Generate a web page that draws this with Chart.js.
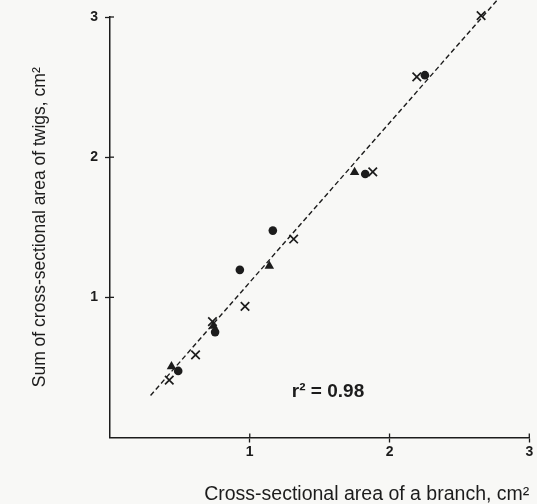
<!DOCTYPE html>
<html lang="en">
<head>
    <meta charset="UTF-8">
    <title>Twig vs branch area</title>
    <script src="https://cdn.jsdelivr.net/npm/chart.js@4/dist/chart.umd.min.js"></script>
    <style>
        html, body { margin: 0; padding: 0; background: #f8f8f6; }
        #wrap { width: 537px; height: 504px; }
    </style>
</head>
<body>
    <div id="wrap"><canvas id="chartArea"></canvas></div>
    <script>
        // crosses, circles and triangles (x = branch, y = twigs, cm2)
        var cross_x = [0.424, 0.612, 0.733, 0.966, 1.314, 1.88, 2.195, 2.655];
        var cross_y = [0.41, 0.589, 0.827, 0.936, 1.416, 1.895, 2.573, 3.01];
        var circle_x = [0.488, 0.752, 0.929, 1.165, 1.826, 2.253];
        var circle_y = [0.475, 0.752, 1.196, 1.476, 1.88, 2.585];
        var tri_x = [0.44, 0.74, 1.14, 1.75];
        var tri_y = [0.506, 0.796, 1.224, 1.892];
        // fitted line ends
        var fit_x = [0.29, 2.80];
        var fit_y = [0.30, 3.155];
        var tick_vals = [1, 2, 3];
        var r2_label = 'r\u00b2 = 0.98';

        function pts(xs, ys) {
            return xs.map((v, i) => ({x: v, y: ys[i]}));
        }

        var ink = '#1c1c1c';

        // ticks cross the axis in the original, draw the inner half
        const innerTicks = {
            id: 'innerTicks',
            afterDraw(chart) {
                const ctx = chart.ctx;
                const xs = chart.scales.x, ys = chart.scales.y;
                ctx.save();
                ctx.strokeStyle = ink;
                ctx.lineWidth = 1.3;
                tick_vals.forEach(v => {
                    const px = xs.getPixelForValue(v);
                    ctx.beginPath();
                    ctx.moveTo(px, ys.bottom);
                    ctx.lineTo(px, ys.bottom - 4);
                    ctx.stroke();
                    const py = ys.getPixelForValue(v);
                    ctx.beginPath();
                    ctx.moveTo(xs.left, py);
                    ctx.lineTo(xs.left + 4, py);
                    ctx.stroke();
                });
                // r2 note
                ctx.fillStyle = ink;
                ctx.font = 'bold 19px "Liberation Sans", Arial, sans-serif';
                ctx.textAlign = 'center';
                ctx.textBaseline = 'middle';
                ctx.fillText(r2_label, xs.getPixelForValue(1.56), ys.getPixelForValue(0.325));
                ctx.restore();
            }
        };

        const data = {
            datasets: [
                {
                    label: 'fit',
                    type: 'line',
                    data: pts(fit_x, fit_y),
                    borderColor: ink,
                    borderWidth: 1.4,
                    borderDash: [5, 3],
                    pointRadius: 0,
                    clip: false
                },
                {
                    label: 'x',
                    data: pts(cross_x, cross_y),
                    pointStyle: 'crossRot',
                    pointRadius: 6,
                    borderColor: ink,
                    borderWidth: 1.7,
                    clip: false
                },
                {
                    label: 'circle',
                    data: pts(circle_x, circle_y),
                    pointStyle: 'circle',
                    pointRadius: 4.3,
                    backgroundColor: ink,
                    borderColor: ink,
                    borderWidth: 0,
                    clip: false
                },
                {
                    label: 'triangle',
                    data: pts(tri_x, tri_y),
                    pointStyle: 'triangle',
                    pointRadius: 5.5,
                    backgroundColor: ink,
                    borderColor: ink,
                    borderWidth: 0,
                    clip: false
                }
            ]
        };

        const tickFont = {family: '"Liberation Sans", Arial, sans-serif', size: 14, weight: 'bold'};
        const xTitleFont = {family: '"Liberation Sans", Arial, sans-serif', size: 19.5, lineHeight: 1};
        const yTitleFont = {family: '"Liberation Sans", Arial, sans-serif', size: 17.5, lineHeight: 1};

        const config = {
            type: 'scatter',
            data,
            options: {
                animation: false,
                responsive: true,
                maintainAspectRatio: false,
                layout: {padding: {left: 31, right: 7, top: 17, bottom: 0}},
                plugins: {legend: {display: false}, tooltip: {enabled: false}},
                scales: {
                    x: {
                        type: 'linear',
                        min: 0,
                        max: 3,
                        afterBuildTicks: s => { s.ticks = tick_vals.map(v => ({value: v})); },
                        afterFit: s => { s.height = 66.5; },
                        grid: {drawOnChartArea: false, tickLength: 5, color: ink, tickWidth: 1.3},
                        border: {color: ink, width: 1.5},
                        ticks: {color: ink, font: tickFont, padding: 1, maxRotation: 0},
                        title: {
                            display: true,
                            text: 'Cross-sectional area of a branch, cm\u00b2',
                            color: ink,
                            font: xTitleFont,
                            align: 'end',
                            padding: {top: 0, bottom: 0}
                        }
                    },
                    y: {
                        type: 'linear',
                        min: 0,
                        max: 3,
                        afterBuildTicks: s => { s.ticks = tick_vals.map(v => ({value: v})); },
                        afterFit: s => { s.width = 79; },
                        grid: {drawOnChartArea: false, tickLength: 5, color: ink, tickWidth: 1.3},
                        border: {color: ink, width: 1.5},
                        ticks: {color: ink, font: tickFont, padding: 7},
                        title: {
                            display: true,
                            text: 'Sum of cross-sectional area of twigs, cm\u00b2',
                            color: ink,
                            font: yTitleFont,
                            padding: {top: 0, bottom: 0}
                        }
                    }
                }
            },
            plugins: [innerTicks]
        };

        var myChart = new Chart(document.getElementById('chartArea'), config);
    </script>
</body>
</html>
